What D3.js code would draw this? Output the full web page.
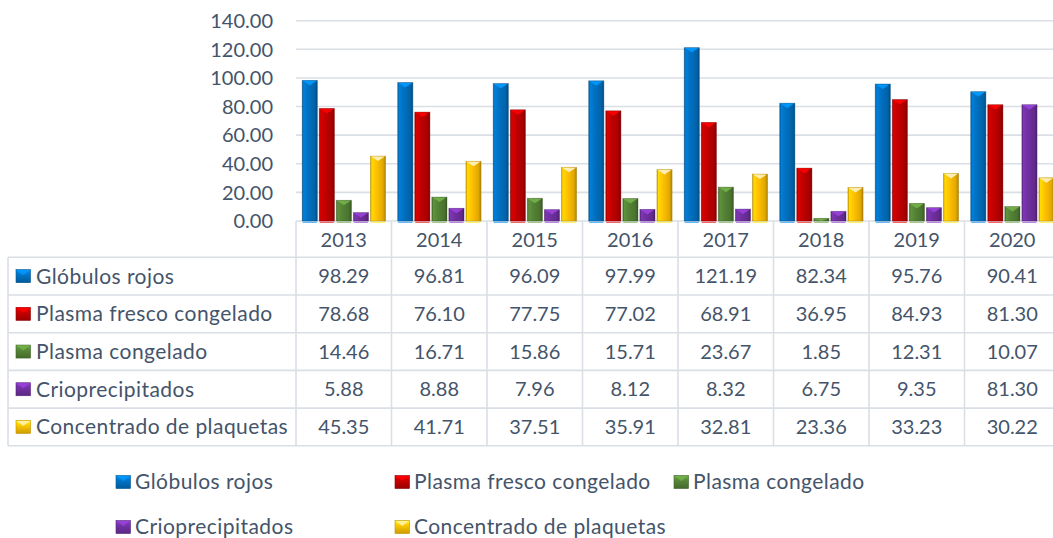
<!DOCTYPE html>
<html>
<head>
<meta charset="utf-8">
<script src="https://cdn.jsdelivr.net/npm/d3@7"></script>
<style>
  body { margin: 0; background: #fff; }
  svg { display: block; font-family: Lato, "Open Sans", sans-serif; }
  .lbl { font-size: 21px; letter-spacing: 0.45px; }
</style>
</head>
<body>
<svg id="chart" width="1053" height="538"></svg>
<script>
// ---- data ----
const years = ["2013", "2014", "2015", "2016", "2017", "2018", "2019", "2020"];
const seriesNames = ["Glóbulos rojos", "Plasma fresco congelado", "Plasma congelado", "Crioprecipitados", "Concentrado de plaquetas"];
const globulosRojos    = [98.29, 96.81, 96.09, 97.99, 121.19, 82.34, 95.76, 90.41];
const plasmaFresco     = [78.68, 76.10, 77.75, 77.02, 68.91, 36.95, 84.93, 81.30];
const plasmaCongelado  = [14.46, 16.71, 15.86, 15.71, 23.67, 1.85, 12.31, 10.07];
const crioprecipitados = [5.88, 8.88, 7.96, 8.12, 8.32, 6.75, 9.35, 81.30];
const plaquetas        = [45.35, 41.71, 37.51, 35.91, 32.81, 23.36, 33.23, 30.22];
const seriesValues = [globulosRojos, plasmaFresco, plasmaCongelado, crioprecipitados, plaquetas];
const seriesColors = ["#0070C0", "#C00000", "#548235", "#7030A0", "#FFC000"];
const yTicks = [0, 20, 40, 60, 80, 100, 120, 140];

// ---- layout ----
const W = 1053, H = 538;
const textColor = "#44546A";
const lineColor = "#DADFE6";
const fontSize = 20;

const svg = d3.select("#chart");
const defs = svg.append("defs");

const x = d3.scaleBand().domain(years).range([296, 1060]).padding(0);
const xs = d3.scaleBand().domain(d3.range(seriesNames.length))
  .range([6.2, 89.6]).paddingInner(0.11).paddingOuter(0);
const y = d3.scaleLinear().domain([0, 140]).range([221, 20.7]);

// bevel gradients for each series
seriesColors.forEach((c, i) => {
  const base = d3.color(c);
  const g = defs.append("linearGradient").attr("id", "bar" + i)
    .attr("x1", 0).attr("x2", 1).attr("y1", 0).attr("y2", 0);
  [[0, base.darker(0.7)], [0.1, base.brighter(0.35)], [0.4, base], [0.82, base.darker(0.35)], [1, base.darker(1.1)]]
    .forEach(([o, col]) => g.append("stop").attr("offset", o).attr("stop-color", col.formatHex()));
  const k = defs.append("linearGradient").attr("id", "key" + i)
    .attr("x1", 0).attr("x2", 0).attr("y1", 0).attr("y2", 1);
  [[0, base.brighter(0.8)], [0.3, base.brighter(0.2)], [1, base.darker(0.6)]]
    .forEach(([o, col]) => k.append("stop").attr("offset", o).attr("stop-color", col.formatHex()));
});
const topColor = (c, i) => {
  const b = d3.color(c);
  return i === 4 ? "#FFF3C4" : b.brighter(0.9).formatHex();
};

// ---- gridlines and y axis labels ----
const yAxis = d3.axisLeft(y).tickValues(yTicks).tickFormat(d3.format(".2f")).tickSize(0).tickPadding(0);
const yG = svg.append("g").attr("transform", "translate(273,0)").call(yAxis);
yG.select(".domain").remove();
yG.selectAll("text").attr("fill", textColor).style("font-size", fontSize + "px")
  .style("font-family", "Lato, 'Open Sans', sans-serif").attr("dy", "0.34em");

svg.append("g").selectAll("line").data(yTicks).join("line")
  .attr("x1", 296).attr("x2", W)
  .attr("y1", d => y(d)).attr("y2", d => y(d))
  .attr("stroke", lineColor).attr("stroke-width", 1.6);

// ---- bars ----
const groups = svg.append("g").selectAll("g").data(years).join("g")
  .attr("transform", d => `translate(${x(d)},0)`);

groups.each(function (yr, yi) {
  const g = d3.select(this);
  seriesValues.forEach((vals, si) => {
    const v = vals[yi];
    const bx = xs(si), bw = xs.bandwidth();
    const top = y(v), h = y(0) - top;
    const base = d3.color(seriesColors[si]);
    g.append("rect")
      .attr("x", bx).attr("y", top).attr("width", bw).attr("height", h)
      .attr("fill", `url(#bar${si})`)
      .attr("stroke", base.darker(1.2).formatHex()).attr("stroke-opacity", 0.45).attr("stroke-width", 0.8);
    const cap = Math.min(5, h);
    g.append("path")
      .attr("d", `M${bx + 0.8},${top + 0.4}L${bx + bw - 0.8},${top + 0.4}L${bx + bw / 2},${top + cap}Z`)
      .attr("fill", topColor(seriesColors[si], si)).attr("opacity", 0.9);
    g.append("rect")
      .attr("x", bx + 0.5).attr("y", y(0) + 0.6).attr("width", bw - 1).attr("height", 1.4)
      .attr("fill", base.brighter(0.6).formatHex()).attr("opacity", 0.6);
  });
});

// ---- data table ----
const rowTop = 257.3, rowH = 37.7, nRows = seriesNames.length;
const tableBottom = rowTop + nRows * rowH;
const tbl = svg.append("g");
d3.range(nRows + 1).forEach(r => {
  tbl.append("line").attr("x1", 8).attr("x2", W)
    .attr("y1", rowTop + r * rowH).attr("y2", rowTop + r * rowH)
    .attr("stroke", lineColor).attr("stroke-width", 1.6);
});
tbl.append("line").attr("x1", 8).attr("x2", 8).attr("y1", rowTop).attr("y2", tableBottom)
  .attr("stroke", lineColor).attr("stroke-width", 1.6);
years.forEach(yr => {
  tbl.append("line").attr("x1", x(yr)).attr("x2", x(yr)).attr("y1", y(0)).attr("y2", tableBottom)
    .attr("stroke", lineColor).attr("stroke-width", 1.6);
});

// year headers
tbl.selectAll("text.year").data(years).join("text").attr("class", "year")
  .attr("x", d => x(d) + x.bandwidth() / 2).attr("y", 239.5)
  .attr("text-anchor", "middle").attr("dy", "0.35em")
  .attr("fill", textColor).style("font-size", fontSize + "px").text(d => d);

const fmt = d3.format(".2f");
seriesNames.forEach((name, si) => {
  const cy = rowTop + si * rowH + rowH / 2;
  tbl.append("rect").attr("x", 16).attr("y", cy - 6.5).attr("width", 14.5).attr("height", 13)
    .attr("fill", `url(#key${si})`).attr("stroke", d3.color(seriesColors[si]).darker(0.8).formatHex()).attr("stroke-width", 0.6);
  tbl.append("path")
    .attr("d", `M16.5,${cy - 6}L30,${cy - 6}L23.25,${cy - 1}Z`)
    .attr("fill", topColor(seriesColors[si], si)).attr("opacity", 0.8);
  tbl.append("text").attr("class", "lbl").attr("x", 36).attr("y", cy).attr("dy", "0.35em")
    .attr("fill", textColor).text(name);
  years.forEach((yr, yi) => {
    tbl.append("text").attr("x", x(yr) + x.bandwidth() / 2).attr("y", cy).attr("dy", "0.35em")
      .attr("text-anchor", "middle").attr("fill", textColor).style("font-size", fontSize + "px")
      .text(fmt(seriesValues[si][yi]));
  });
});

// ---- legend ----
const legendPos = [[116, 482], [395, 482], [674, 482], [116, 527], [395, 527]];
const leg = svg.append("g");
seriesNames.forEach((name, si) => {
  const [lx, ly] = legendPos[si];
  leg.append("rect").attr("x", lx).attr("y", ly - 6.5).attr("width", 14.5).attr("height", 13)
    .attr("fill", `url(#key${si})`).attr("stroke", d3.color(seriesColors[si]).darker(0.8).formatHex()).attr("stroke-width", 0.6);
  leg.append("path")
    .attr("d", `M${lx + 0.5},${ly - 6}L${lx + 14},${ly - 6}L${lx + 7.25},${ly - 1}Z`)
    .attr("fill", topColor(seriesColors[si], si)).attr("opacity", 0.8);
  leg.append("text").attr("class", "lbl").attr("x", lx + 19).attr("y", ly).attr("dy", "0.35em")
    .attr("fill", textColor).text(name);
});
</script>
</body>
</html>
